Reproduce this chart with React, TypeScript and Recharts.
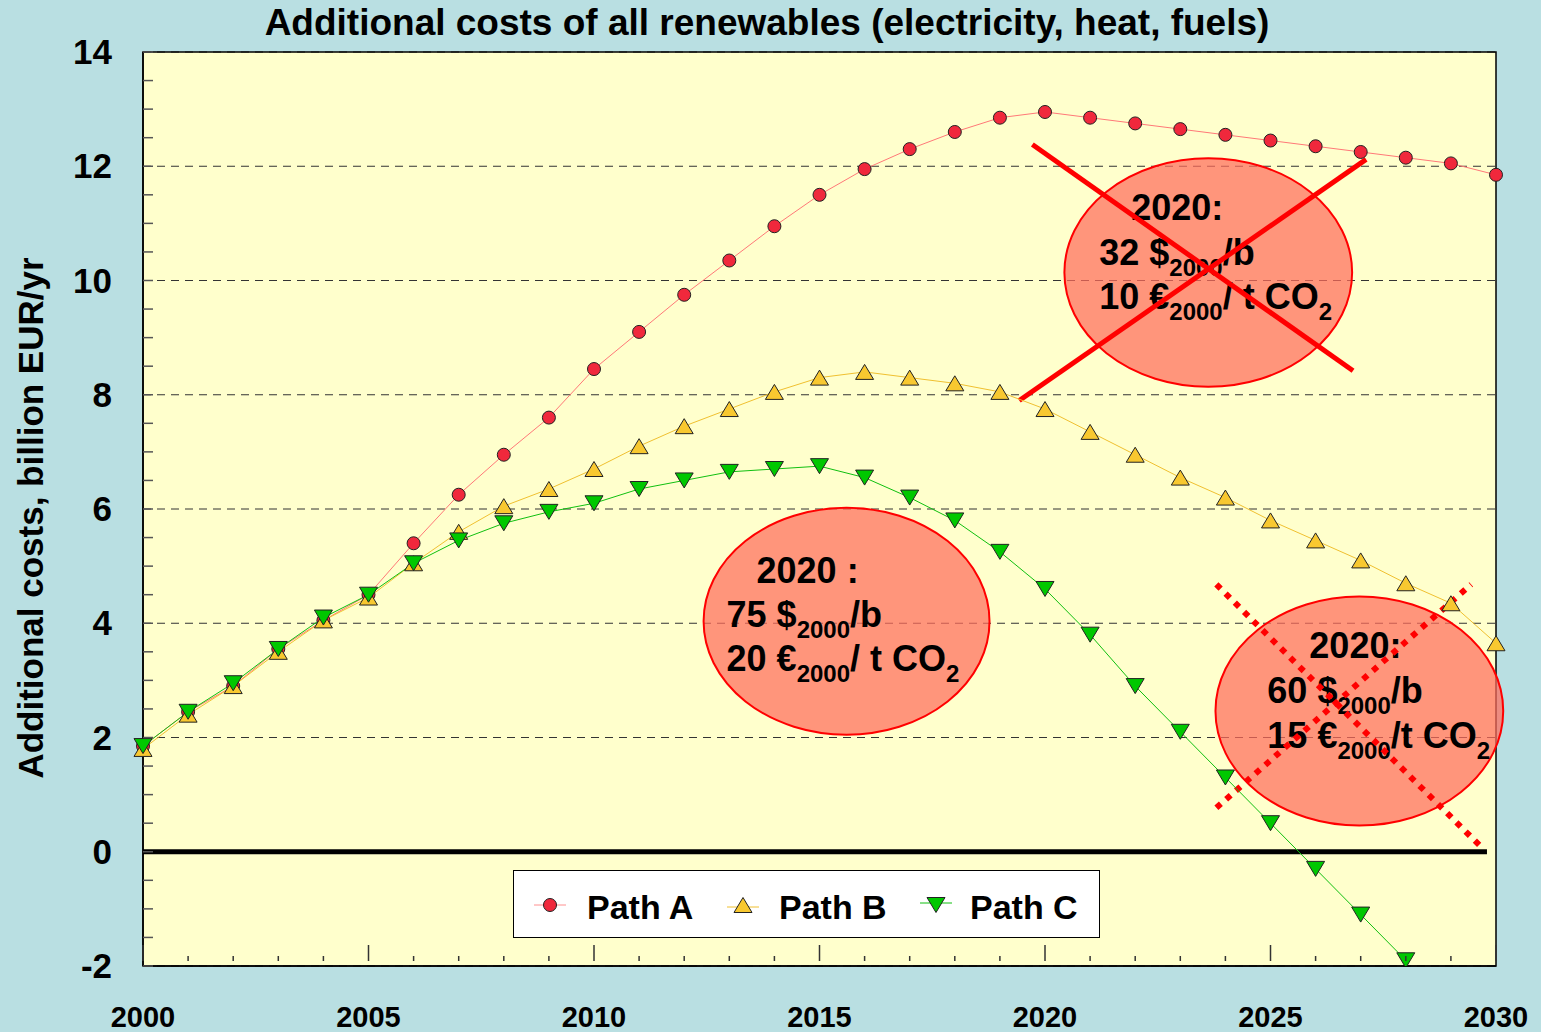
import { LineChart, Line, XAxis, YAxis, CartesianGrid, ReferenceLine, ReferenceArea } from 'recharts';

const years = [2000, 2001, 2002, 2003, 2004, 2005, 2006, 2007, 2008, 2009, 2010, 2011, 2012, 2013, 2014, 2015, 2016, 2017, 2018, 2019, 2020, 2021, 2022, 2023, 2024, 2025, 2026, 2027, 2028, 2029, 2030];
const pathA = [1.85, 2.45, 2.9, 3.55, 4.05, 4.5, 5.4, 6.25, 6.95, 7.6, 8.45, 9.1, 9.75, 10.35, 10.95, 11.5, 11.95, 12.3, 12.6, 12.85, 12.95, 12.85, 12.75, 12.65, 12.55, 12.45, 12.35, 12.25, 12.15, 12.05, 11.85];
const pathB = [1.8, 2.4, 2.9, 3.5, 4.05, 4.45, 5.05, 5.6, 6.05, 6.35, 6.7, 7.1, 7.45, 7.75, 8.05, 8.3, 8.4, 8.3, 8.2, 8.05, 7.75, 7.35, 6.95, 6.55, 6.2, 5.8, 5.45, 5.1, 4.7, 4.35, 3.65];
const pathC = [1.85, 2.45, 2.95, 3.55, 4.1, 4.5, 5.05, 5.45, 5.75, 5.95, 6.1, 6.35, 6.5, 6.65, 6.7, 6.75, 6.55, 6.2, 5.8, 5.25, 4.6, 3.8, 2.9, 2.1, 1.3, 0.5, -0.3, -1.1, -1.9, null, null];

const yTicks = [-2, -1.5, -1, -0.5, 0, 0.5, 1, 1.5, 2, 2.5, 3, 3.5, 4, 4.5, 5, 5.5, 6, 6.5, 7, 7.5, 8, 8.5, 9, 9.5, 10, 10.5, 11, 11.5, 12, 12.5, 13, 13.5, 14];
const yLabels = [-2, 0, 2, 4, 6, 8, 10, 12, 14];
const gridLines = [-2, 2, 4, 6, 8, 10, 12, 14];
const xLabels = [2000, 2005, 2010, 2015, 2020, 2025, 2030];

const data = years.map((year, i) => ({ year, a: pathA[i], b: pathB[i], c: pathC[i] }));

const FONT = '"Liberation Sans", Arial, sans-serif';
const BG = '#b9dfe2';

const RedDot = (p: any) => {
    if (p.cy == null) return null;
    return <circle cx={p.cx} cy={p.cy} r={6.5} fill="#f0283c" stroke="#222" strokeWidth={1} />;
};
const UpTri = (p: any) => {
    if (p.cy == null) return null;
    const { cx, cy } = p;
    return <polygon points={`${cx - 9},${cy + 7.5} ${cx + 9},${cy + 7.5} ${cx},${cy - 7.5}`} fill="#f8c830" stroke="#222" strokeWidth={1} />;
};
const DownTri = (p: any) => {
    if (p.cy == null) return null;
    const { cx, cy } = p;
    return <polygon points={`${cx - 9},${cy - 7.5} ${cx + 9},${cy - 7.5} ${cx},${cy + 7.5}`} fill="#00c800" stroke="#222" strokeWidth={1} />;
};

const YTick = (p: any) => {
    const v = p.payload.value;
    const x = p.x;
    const y = p.y;
    return (
        <g>
            <line x1={x} y1={y} x2={x + 10} y2={y} stroke="#555" strokeWidth={1.5} />
            {yLabels.includes(v) && (
                <text x={x - 31} y={y} dy={12} textAnchor="end" fontFamily={FONT} fontWeight="bold" fontSize={35} fill="#000">
                    {v}
                </text>
            )}
        </g>
    );
};

const XTick = (p: any) => {
    const v = p.payload.value;
    const major = v % 5 === 0;
    return (
        <g>
            <line x1={p.x} y1={p.y - 5} x2={p.x} y2={p.y - (major ? 21 : 10)} stroke="#333" strokeWidth={1.5} />
            {xLabels.includes(v) && (
                <text x={p.x} y={p.y + 61} textAnchor="middle" fontFamily={FONT} fontWeight="bold" fontSize={29} fill="#000">
                    {v}
                </text>
            )}
        </g>
    );
};

// annotation bubble drawn inside the reference area's box
const Bubble = (p: any) => {
    const { x, y, width, height, rows } = p;
    const cx = x + width / 2;
    const cy = y + height / 2;
    return (
        <g>
            <ellipse cx={cx} cy={cy} rx={width / 2} ry={height / 2} fill="#ff6c5c" fillOpacity={0.72} stroke="#ff0000" strokeWidth={2} />
            {rows.map((r: any, i: number) => (
                <text key={i} x={cx + r.dx} y={cy + r.dy} fontFamily={FONT} fontWeight="bold" fontSize={36} fill="#000">
                    {r.parts.map((t: any, j: number) =>
                        t.sub ? (
                            <tspan key={j} fontSize={24} dy={11}>{t.text}</tspan>
                        ) : (
                            <tspan key={j} dy={j > 0 && r.parts[j - 1].sub ? -11 : 0}>{t.text}</tspan>
                        )
                    )}
                </text>
            ))}
        </g>
    );
};

const bubbleTop = [
    { dx: -77, dy: -53, parts: [{ text: '2020:' }] },
    { dx: -109, dy: -8, parts: [{ text: '32 $' }, { text: '2000', sub: true }, { text: '/b' }] },
    { dx: -109, dy: 36, parts: [{ text: '10 €' }, { text: '2000', sub: true }, { text: '/ t CO' }, { text: '2', sub: true }] },
];
const bubbleMid = [
    { dx: -90, dy: -38, parts: [{ text: '2020 :' }] },
    { dx: -120, dy: 6, parts: [{ text: '75 $' }, { text: '2000', sub: true }, { text: '/b' }] },
    { dx: -120, dy: 50, parts: [{ text: '20 €' }, { text: '2000', sub: true }, { text: '/ t CO' }, { text: '2', sub: true }] },
];
const bubbleLow = [
    { dx: -50, dy: -53, parts: [{ text: '2020:' }] },
    { dx: -92, dy: -8, parts: [{ text: '60 $' }, { text: '2000', sub: true }, { text: '/b' }] },
    { dx: -92, dy: 37, parts: [{ text: '15 €' }, { text: '2000', sub: true }, { text: '/t CO' }, { text: '2', sub: true }] },
];

const App = () => {
    return (
        <div style={{ position: 'absolute', left: 0, top: 0, width: 1541, height: 1032, background: BG, fontFamily: FONT }}>
            <div style={{ position: 'absolute', left: 0, top: 0, width: 1541, fontSize: 37, fontWeight: 'bold', lineHeight: '46px', zIndex: 2 }}>
                <span style={{ position: 'absolute', left: 767, transform: 'translateX(-50%)', whiteSpace: 'nowrap' }}>
                    Additional costs of all renewables (electricity, heat, fuels)
                </span>
            </div>
            <LineChart width={1541} height={1032} data={data} margin={{ top: 52, right: 45, bottom: 0, left: 0 }}>
                <CartesianGrid horizontal vertical={false} horizontalValues={gridLines} stroke="#333" strokeDasharray="8 6" fill="#ffffcc" />
                <XAxis
                    dataKey="year"
                    type="number"
                    domain={[2000, 2030]}
                    ticks={years}
                    interval={0}
                    height={66}
                    tickSize={0}
                    tickMargin={0}
                    tickLine={false}
                    axisLine={{ stroke: '#000', strokeWidth: 1.5 }}
                    tick={<XTick />}
                />
                <YAxis
                    type="number"
                    domain={[-2, 14]}
                    ticks={yTicks}
                    interval={0}
                    width={143}
                    tickSize={0}
                    tickMargin={0}
                    tickLine={false}
                    allowDataOverflow
                    axisLine={{ stroke: '#000', strokeWidth: 1.5 }}
                    tick={<YTick />}
                    label={{
                        content: (props: any) => {
                            const vb = props.viewBox;
                            const cy = vb.y + vb.height / 2 + 9;
                            return (
                                <text x={30} y={cy} transform={`rotate(-90, 30, ${cy})`} textAnchor="middle" dominantBaseline="central" fontFamily={FONT} fontWeight="bold" fontSize={35} fill="#000">
                                    Additional costs, billion EUR/yr
                                </text>
                            );
                        },
                    }}
                />
                <ReferenceArea x1={2000} x2={2030} y1={-2} y2={14} fill="none" fillOpacity={0} stroke="#000" strokeWidth={1.5} />
                <ReferenceArea x1={2012.43} x2={2018.77} y1={2.05} y2={6.02} ifOverflow="visible" shape={(p: any) => <Bubble {...p} rows={bubbleMid} />} />
                <ReferenceArea x1={2020.43} x2={2026.81} y1={8.14} y2={12.14} ifOverflow="visible" shape={(p: any) => <Bubble {...p} rows={bubbleTop} />} />
                <ReferenceArea x1={2023.78} x2={2030.16} y1={0.46} y2={4.47} ifOverflow="visible" shape={(p: any) => <Bubble {...p} rows={bubbleLow} />} />
                <ReferenceLine segment={[{ x: 2000, y: 0 }, { x: 2029.8, y: 0 }]} stroke="#000" strokeWidth={5} />
                <ReferenceLine segment={[{ x: 2019.72, y: 12.38 }, { x: 2026.83, y: 8.42 }]} stroke="#ff0000" strokeWidth={5} />
                <ReferenceLine segment={[{ x: 2019.43, y: 7.9 }, { x: 2027.12, y: 12.12 }]} stroke="#ff0000" strokeWidth={5} />
                <ReferenceLine segment={[{ x: 2023.8, y: 4.68 }, { x: 2029.69, y: 0.07 }]} stroke="#ff0000" strokeWidth={6} strokeDasharray="6 7" />
                <ReferenceLine segment={[{ x: 2023.8, y: 0.77 }, { x: 2029.45, y: 4.68 }]} stroke="#ff0000" strokeWidth={6} strokeDasharray="6 7" />
                <Line dataKey="a" stroke="#ff7878" strokeWidth={1} dot={<RedDot />} isAnimationActive={false} />
                <Line dataKey="b" stroke="#f0c030" strokeWidth={1} dot={<UpTri />} isAnimationActive={false} />
                <Line dataKey="c" stroke="#10c010" strokeWidth={1} dot={<DownTri />} isAnimationActive={false} connectNulls={false} />
            </LineChart>
            <div style={{ position: 'absolute', left: 513, top: 870, width: 585, height: 66, background: '#fff', border: '1px solid #000', fontSize: 34, fontWeight: 'bold' }}>
                <svg style={{ position: 'absolute', left: 20, top: 22 }} width={32} height={24}>
                    <line x1={0} y1={12} x2={32} y2={12} stroke="#ff9090" strokeWidth={1} />
                    <circle cx={16} cy={12} r={6.5} fill="#f0283c" stroke="#222" />
                </svg>
                <span style={{ position: 'absolute', left: 73, top: 18, lineHeight: '36px' }}>Path A</span>
                <svg style={{ position: 'absolute', left: 213, top: 22 }} width={32} height={24}>
                    <line x1={0} y1={14} x2={32} y2={14} stroke="#f0c030" strokeWidth={1} />
                    <polygon points="7,19.5 25,19.5 16,4.5" fill="#f8c830" stroke="#222" />
                </svg>
                <span style={{ position: 'absolute', left: 265, top: 18, lineHeight: '36px' }}>Path B</span>
                <svg style={{ position: 'absolute', left: 406, top: 22 }} width={32} height={24}>
                    <line x1={0} y1={10} x2={32} y2={10} stroke="#10c010" strokeWidth={1} />
                    <polygon points="7,4.5 25,4.5 16,19.5" fill="#00c800" stroke="#222" />
                </svg>
                <span style={{ position: 'absolute', left: 456, top: 18, lineHeight: '36px' }}>Path C</span>
            </div>
        </div>
    );
};

export default App;
